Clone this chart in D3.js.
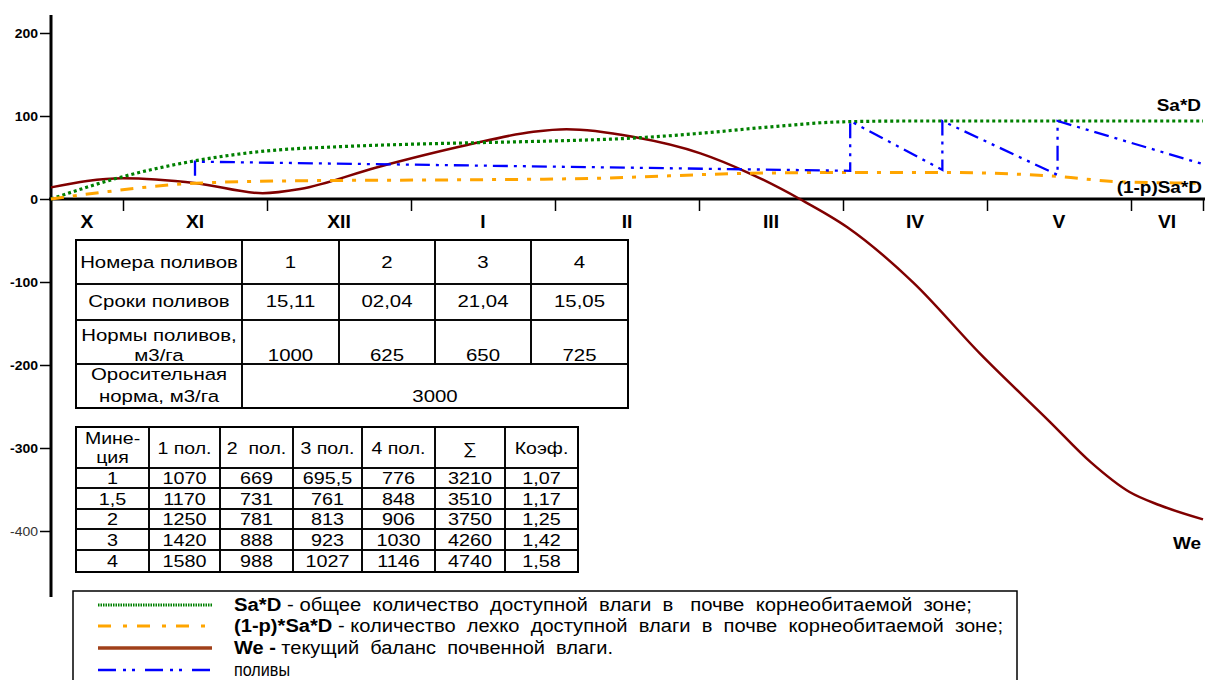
<!DOCTYPE html>
<html>
<head>
<meta charset="utf-8">
<script src="https://cdn.jsdelivr.net/npm/d3@7"></script>
<style>
  html, body { margin: 0; padding: 0; background: #fff; }
  svg { display: block; font-family: "Liberation Sans", Arial, sans-serif; }
  text { white-space: pre; }
</style>
</head>
<body>
<svg id="chart" width="1205" height="680"></svg>
<script>
// ---- data -------------------------------------------------------------
// time axis in month units: 0 = mid-October, 8 = mid-June
const months = ["X", "XI", "XII", "I", "II", "III", "IV", "V", "VI"];
const monthBounds = [0, 0.5, 1.5, 2.5, 3.5, 4.5, 5.5, 6.5, 7.5, 8];
const yTicks = [200, 100, 0, -100, -200, -300, -400];

// Sa*D — total available moisture in the root zone
const saT = [0, 0.5, 1, 1.5, 2, 2.5, 3, 3.5, 4, 4.5, 5, 5.5, 6, 6.5, 7, 7.5, 8];
const saV = [0, 27, 46, 58, 63, 66, 68, 70, 73, 79, 87, 93, 94, 94, 94, 94, 94];

// (1-p)*Sa*D — readily available moisture
const rdT = [0, 0.35, 1, 1.75, 2.75, 3.8, 4.85, 5.55, 6.2, 7.0, 7.4, 8];
const rdV = [0, 8, 19, 22, 23, 25, 31, 32, 32, 27, 21, 19];

// We — current soil moisture balance
const weT = [0, 0.5, 1.01, 1.47, 1.73, 2.26, 2.89, 3.35, 3.58, 4.04, 4.51, 4.85, 5.2, 5.53, 5.99, 6.45, 6.94, 7.22, 7.49, 7.7, 8.0];
const weV = [14, 25, 19, 7, 12, 38, 65, 81, 84, 75, 55, 31, 0, -34, -101, -186, -269, -317, -353, -369, -386];

// irrigations (saw-tooth)
const irT = [1.0, 1.0, 5.55, 5.55, 6.19, 6.19, 6.99, 6.99, 8.0];
const irV = [28, 45, 34, 94, 35, 94, 29, 94, 42];

// irrigation schedule table
const irrigationNumbers = ["1", "2", "3", "4"];
const irrigationDates = ["15,11", "02,04", "21,04", "15,05"];
const irrigationRates = ["1000", "625", "650", "725"];
const seasonalRate = "3000";

// mineralisation table
const minHeader = ["Мине-\nция", "1 пол.", "2  пол.", "3 пол.", "4 пол.", "∑", "Коэф."];
const minColumn = ["1", "1,5", "2", "3", "4"];
const pol1 = ["1070", "1170", "1250", "1420", "1580"];
const pol2 = ["669", "731", "781", "888", "988"];
const pol3 = ["695,5", "761", "813", "923", "1027"];
const pol4 = ["776", "848", "906", "1030", "1146"];
const polSum = ["3210", "3510", "3750", "4260", "4740"];
const polCoef = ["1,07", "1,17", "1,25", "1,42", "1,58"];

// legend entries
const legendItems = [
  { key: "Sa*D", rest: " - общее  количество  доступной  влаги  в   почве  корнеобитаемой  зоне;", kind: "sa", width: 738 },
  { key: "(1-p)*Sa*D", rest: " - количество  лехко  доступной  влаги  в  почве  корнеобитаемой  зоне;", kind: "rd", width: 769 },
  { key: "We -", rest: " текущий  баланс  почвенной  влаги.", kind: "we", width: 379 },
  { key: "", rest: "поливы", kind: "ir", width: 56 }
];

// ---- layout ---------------------------------------------------------
const svg = d3.select("#chart");
const x = d3.scaleLinear().domain([0, 8]).range([51, 1203]);
const y = d3.scaleLinear().domain([-400, 200]).range([531, 33]);

const COLORS = { sa: "#008000", rd: "#FFA500", we: "#800000", ir: "#0000FF", weLegend: "#A0401A" };
const DASH = { sa: "3,3", rd: "13,9,4,9", ir: "15,6,3,6,3,6" };

// helper: horizontally stretched text
function stext(g, tx, ty, str, opts = {}) {
  const sx = opts.sx || 1.2;
  const t = g.append("text")
    .attr("transform", `translate(${tx},${ty}) scale(${sx},1)`)
    .attr("text-anchor", opts.anchor || "middle")
    .attr("font-size", opts.size || 17)
    .attr("font-weight", opts.weight || "normal")
    .attr("fill", opts.fill || "#000")
    .text(str);
  return t;
}

// ---- axes -----------------------------------------------------------
const yAxis = d3.axisLeft(y).tickValues(yTicks).tickSize(11).tickPadding(2).tickFormat(d3.format("d"));
const gy = svg.append("g").attr("transform", "translate(51,0)").call(yAxis);
gy.select(".domain").remove();
gy.selectAll(".tick line").attr("stroke", "#000").attr("stroke-width", 1.5);
gy.selectAll(".tick text").remove();
yTicks.forEach((v) => {
  stext(svg, 38, y(v) + 4.5, String(v), {
    anchor: "end", size: 12.5, sx: 1.12,
    weight: v === -400 ? "normal" : "bold",
    fill: v === -400 ? "#333" : "#000"
  });
});
svg.append("line").attr("x1", 51).attr("x2", 51).attr("y1", 15).attr("y2", 597)
  .attr("stroke", "#000").attr("stroke-width", 3);

const xAxis = d3.axisBottom(x).tickValues(monthBounds.slice(1)).tickSize(12).tickFormat("");
const gx = svg.append("g").attr("transform", `translate(0,${y(0)})`).call(xAxis);
gx.select(".domain").remove();
gx.selectAll(".tick line").attr("stroke", "#000").attr("stroke-width", 1.5);
svg.append("line").attr("x1", 49).attr("x2", 1205).attr("y1", y(0)).attr("y2", y(0))
  .attr("stroke", "#000").attr("stroke-width", 3);

months.forEach((m, i) => {
  const mid = (monthBounds[i] + monthBounds[i + 1]) / 2;
  stext(svg, x(mid), 228, m, { size: 17.5, weight: "bold", sx: 1.1 });
});

// ---- series ---------------------------------------------------------
const zipPts = (ts, vs) => ts.map((t, i) => [t, vs[i]]);
const smooth = d3.line().x(d => x(d[0])).y(d => y(d[1])).curve(d3.curveMonotoneX);
const straight = d3.line().x(d => x(d[0])).y(d => y(d[1]));

svg.append("path").attr("d", smooth(zipPts(weT, weV)))
  .attr("fill", "none").attr("stroke", COLORS.we).attr("stroke-width", 2.5);

svg.append("path").attr("d", smooth(zipPts(saT, saV)))
  .attr("fill", "none").attr("stroke", COLORS.sa).attr("stroke-width", 3.2)
  .attr("stroke-dasharray", DASH.sa);

svg.append("path").attr("d", smooth(zipPts(rdT, rdV)))
  .attr("fill", "none").attr("stroke", COLORS.rd).attr("stroke-width", 3)
  .attr("stroke-dasharray", DASH.rd);

svg.append("path").attr("d", straight(zipPts(irT, irV)))
  .attr("fill", "none").attr("stroke", COLORS.ir).attr("stroke-width", 2.3)
  .attr("stroke-dasharray", DASH.ir);

// series end labels
stext(svg, 1201, 111, "Sa*D", { anchor: "end", size: 16.5, weight: "bold", sx: 1.15 });
stext(svg, 1202, 193, "(1-p)Sa*D", { anchor: "end", size: 16.5, weight: "bold", sx: 1.15 });
stext(svg, 1201, 549, "We", { anchor: "end", size: 16.5, weight: "bold", sx: 1.15 });

// ---- irrigation schedule table --------------------------------------
const t1 = svg.append("g");
const c1 = [76, 242, 339, 435, 531, 628];
const r1 = [240, 284, 320, 364, 408];
const cellStroke = (sel) => sel.attr("fill", "none").attr("stroke", "#000").attr("stroke-width", 1.6);

for (let r = 0; r < 3; r++) {
  for (let c = 0; c < 5; c++) {
    t1.append("rect").attr("x", c1[c]).attr("y", r1[r])
      .attr("width", c1[c + 1] - c1[c]).attr("height", r1[r + 1] - r1[r]).call(cellStroke);
  }
}
t1.append("rect").attr("x", c1[0]).attr("y", r1[3]).attr("width", c1[1] - c1[0]).attr("height", r1[4] - r1[3]).call(cellStroke);
t1.append("rect").attr("x", c1[1]).attr("y", r1[3]).attr("width", c1[5] - c1[1]).attr("height", r1[4] - r1[3]).call(cellStroke);
t1.append("rect").attr("x", c1[0]).attr("y", r1[0]).attr("width", c1[5] - c1[0]).attr("height", r1[4] - r1[0])
  .attr("fill", "none").attr("stroke", "#000").attr("stroke-width", 2);

const mid1 = (c) => (c1[c] + c1[c + 1]) / 2;
stext(t1, mid1(0), 268, "Номера поливов", { size: 17, sx: 1.2 });
stext(t1, mid1(0), 307, "Сроки поливов", { size: 17, sx: 1.2 });
stext(t1, mid1(0), 341, "Нормы поливов,", { size: 17, sx: 1.2 });
stext(t1, mid1(0), 361, "м3/га", { size: 17, sx: 1.2 });
stext(t1, mid1(0), 380, "Оросительная", { size: 17, sx: 1.2 });
stext(t1, mid1(0), 402, "норма, м3/га", { size: 17, sx: 1.2 });
irrigationNumbers.forEach((d, i) => stext(t1, mid1(i + 1), 268, d, { size: 17, sx: 1.2 }));
irrigationDates.forEach((d, i) => stext(t1, mid1(i + 1), 307, d, { size: 17, sx: 1.2 }));
irrigationRates.forEach((d, i) => stext(t1, mid1(i + 1), 361, d, { size: 17, sx: 1.2 }));
stext(t1, (c1[1] + c1[5]) / 2, 402, seasonalRate, { size: 17, sx: 1.2 });

// ---- mineralisation table ------------------------------------------
const t2 = svg.append("g");
const c2 = [76, 149, 220, 293, 362, 435, 505, 578];
const r2 = [427, 468, 488, 509, 529, 550, 572];
const rows2 = minColumn.map((m, i) => [m, pol1[i], pol2[i], pol3[i], pol4[i], polSum[i], polCoef[i]]);

for (let r = 0; r < r2.length - 1; r++) {
  for (let c = 0; c < c2.length - 1; c++) {
    t2.append("rect").attr("x", c2[c]).attr("y", r2[r])
      .attr("width", c2[c + 1] - c2[c]).attr("height", r2[r + 1] - r2[r]).call(cellStroke);
  }
}
t2.append("rect").attr("x", c2[0]).attr("y", r2[0]).attr("width", c2[7] - c2[0]).attr("height", r2[6] - r2[0])
  .attr("fill", "none").attr("stroke", "#000").attr("stroke-width", 2);

const mid2 = (c) => (c2[c] + c2[c + 1]) / 2;
minHeader.forEach((h, c) => {
  if (h.includes("\n")) {
    const parts = h.split("\n");
    stext(t2, mid2(c), 444, parts[0], { size: 16, sx: 1.22 });
    stext(t2, mid2(c), 463, parts[1], { size: 16, sx: 1.22 });
  } else {
    stext(t2, mid2(c), 454, h, { size: 16, sx: 1.22 });
  }
});
rows2.forEach((row, r) => {
  const base = (r2[r + 1] + r2[r + 2]) / 2 + 6;
  row.forEach((v, c) => stext(t2, mid2(c), base, v, { size: 16.5, sx: 1.2 }));
});

// ---- legend ---------------------------------------------------------
const lg = svg.append("g");
lg.append("rect").attr("x", 73).attr("y", 591).attr("width", 944).attr("height", 110)
  .attr("fill", "none").attr("stroke", "#000").attr("stroke-width", 1.5);

const legendY = [605, 626, 648, 670];
legendItems.forEach((it, i) => {
  const ly = legendY[i];
  const ln = lg.append("line").attr("x1", 98).attr("x2", 212).attr("y1", ly).attr("y2", ly).attr("fill", "none");
  if (it.kind === "sa") ln.attr("stroke", COLORS.sa).attr("stroke-width", 3).attr("stroke-dasharray", "1.5,1");
  if (it.kind === "rd") ln.attr("stroke", COLORS.rd).attr("stroke-width", 3).attr("stroke-dasharray", "13,12,4,10");
  if (it.kind === "we") ln.attr("stroke", COLORS.weLegend).attr("stroke-width", 3.5);
  if (it.kind === "ir") ln.attr("stroke", COLORS.ir).attr("stroke-width", 2.5).attr("stroke-dasharray", "18,7,3,6,3,10");

  const tx = lg.append("text").attr("x", 234).attr("y", ly + 6).attr("font-size", 18)
    .attr("textLength", it.width).attr("lengthAdjust", "spacingAndGlyphs");
  if (it.key) tx.append("tspan").attr("font-weight", "bold").text(it.key);
  tx.append("tspan").text(it.rest);
});
</script>
</body>
</html>
